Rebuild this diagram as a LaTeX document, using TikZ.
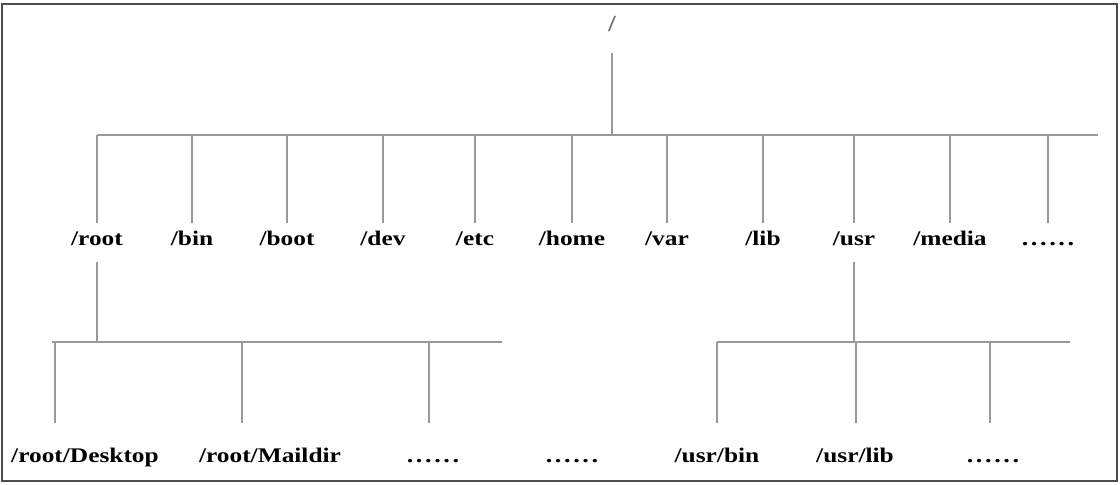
\documentclass[tikz,border=0pt]{standalone}
\usepackage{fontspec}
\newfontfamily\lbl{Liberation Serif}[FakeStretch=1.22]
\newfontfamily\lbldots{Liberation Serif}[FakeStretch=1.22, LetterSpace=12]

\begin{document}
\begin{tikzpicture}[x=0.5pt, y=-0.5pt,
  dir/.style={font=\lbl\bfseries\fontsize{10.4}{12}\selectfont, text height=7.3pt, text depth=2.3pt, inner sep=3.5pt},
  ellip/.style={dir, font=\lbldots\bfseries\fontsize{10.8}{12}\selectfont},
  branch/.style={draw=black!40, line width=0.6pt}]
\useasboundingbox (0,0) rectangle (1120,484);
\draw[black!70, line width=1pt] (2,4) rectangle (1117,481);

\node[dir, text=black!55, font=\lbl\bfseries\fontsize{11.5}{12}\selectfont] (slash) at (612,26) {/};
\coordinate (hub) at (612,135);
\coordinate (barL) at (97,135);
\coordinate (barR) at (1098,135);
\draw[branch, shorten <=5.2pt] (slash) -- (hub);
\draw[branch] (barL) -- (barR);

\foreach \x/\n in {97/root,192/bin,287/boot,383/dev,475/etc,572/home,667/var,763/lib,854/usr,950/media}
{
  \node[dir] (\n) at (\x,240) {/\n};
  \draw[branch] (\n |- barL) -- (\n);
}
\node[ellip] (more) at (1048,240) {......};
\draw[branch] (more |- barL) -- (more);

\node[dir] (desktop) at (85,457) {/root/Desktop};
\node[dir] (maildir) at (270,457) {/root/Maildir};
\node[ellip] (rootmore) at (433,457) {......};
\node[ellip] (gap) at (572,457) {......};
\node[dir] (usrbin) at (717,457) {/usr/bin};
\node[dir] (usrlib) at (855,457) {/usr/lib};
\node[ellip] (usrmore) at (993,457) {......};

\coordinate (rootL) at (52,342);
\coordinate (rootR) at (502,342);
\coordinate (usrL) at (717,342);
\coordinate (usrR) at (1070,342);
\draw[branch] (rootL) -- (rootR);
\draw[branch] (usrL) -- (usrR);
\draw[branch, shorten <=2.7pt] (root) -- (root |- rootL);
\draw[branch, shorten <=2.7pt] (usr) -- (usr |- usrL);

\foreach \n/\x in {desktop/55,maildir/242,rootmore/429,usrbin/717,usrlib/856,usrmore/990}
{
  \coordinate (\n-up) at (\x,342);
  \draw[branch, shorten >=8.7pt] (\n-up) -- (\n-up |- \n.north);
}
\end{tikzpicture}
\end{document}
